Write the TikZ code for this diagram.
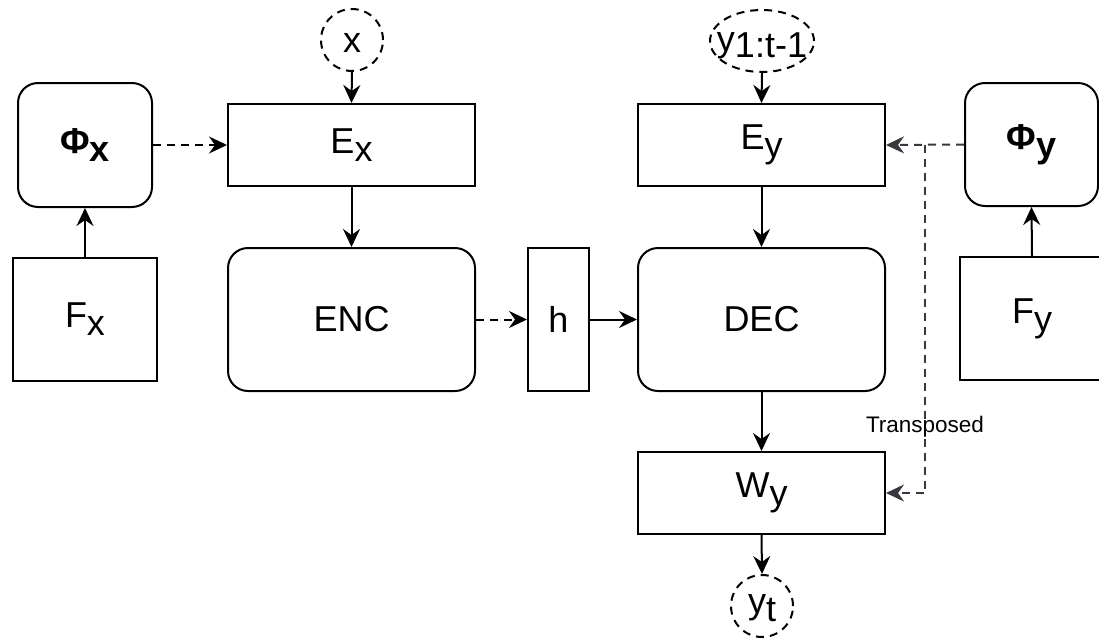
\documentclass[tikz,border=0pt]{standalone}
\usepackage{fontspec}
\setmainfont{Liberation Sans}
\usetikzlibrary{arrows.meta,shapes.geometric}
\definecolor{dg}{HTML}{36393D}
\newcommand{\lsub}[1]{\raisebox{-8pt}{#1}}
\begin{document}
\begin{tikzpicture}[x=1pt,y=-1pt,
  every node/.style={font=\fontsize{36}{42}\selectfont, inner sep=0pt, line width=2pt},
  box/.style={draw, rectangle, line width=2pt},
  rbox/.style={draw, rectangle, rounded corners=20pt, line width=2pt},
  dcirc/.style={draw, circle, dash pattern=on 8pt off 6pt, minimum size=62pt, line width=2pt},
  dell/.style={draw, ellipse, dash pattern=on 8pt off 6pt, minimum width=104pt, minimum height=62pt, line width=2pt},
  arr/.style={line width=2pt, -{Stealth[length=18pt,width=17pt,inset=6pt]}},
  darr/.style={arr, dash pattern=on 8pt off 6pt},
  garr/.style={darr, draw=dg, color=dg},
]
\path[use as bounding box, fill=white] (0,0) rectangle (1099,637);
\clip (0,0) rectangle (1099,637);

% left side
\node[rbox, minimum width=134pt, minimum height=124pt] (phix) at (85,145) {\textbf{Φ\lsub{x}}};
\node[box, minimum width=144pt, minimum height=123pt] (fx) at (85,319.5) {F\lsub{x}};
\node[dcirc, text height=24pt, text depth=0pt] (xin) at (352,40) {x};
\node[box, minimum width=247pt, minimum height=82pt] (ex) at (351.5,145) {E\lsub{x}};
\node[rbox, minimum width=247pt, minimum height=143pt] (enc) at (351.5,319.5) {ENC};
\node[box, minimum width=61pt, minimum height=143pt] (h) at (558.5,319.5) {h};

% decoder side
\node[dell] (yin) at (762,41) {};
\node[text height=26pt, text depth=6pt] (yintxt) at (yin.center) {y\raisebox{-6pt}{1:t-1}};
\node[box, minimum width=247pt, minimum height=82pt] (ey) at (761.5,145) {E\lsub{y}};
\node[rbox, minimum width=247pt, minimum height=143pt] (dec) at (761.5,319.5) {DEC};
\node[box, minimum width=247pt, minimum height=82pt] (wy) at (761.5,493) {W\lsub{y}};
\node[dcirc, text height=23pt, text depth=8pt] (yt) at (762,606) {y\lsub{t}};

% right side
\node[rbox, minimum width=133pt, minimum height=123pt] (phiy) at (1031.5,144.5) {\textbf{Φ\lsub{y}}};
\node[box, minimum width=144pt, minimum height=123pt] (fy) at (1032,318.5) {F\lsub{y}};

% connectors
\draw[arr] (fx.north) -- (phix.south);
\draw[darr] (phix.east) -- (ex.west);
\draw[arr] (xin.south) -- (ex.north);
\draw[arr] (ex.south) -- (enc.north);
\draw[darr] (enc.east) -- (h.west);
\draw[arr] (h.east) -- (dec.west);
\draw[arr] (yin.south) -- (ey.north);
\draw[arr] (ey.south) -- (dec.north);
\draw[arr] (dec.south) -- (wy.north);
\draw[arr] (wy.south) -- (yt.north);
\draw[arr] (fy.north) -- (phiy.south);
\draw[garr] (phiy.west) -- (ey.east);
\coordinate (br) at (925,144.5);
\draw[garr] (br) |- (wy.east);
\node[font=\fontsize{22.5}{26}\selectfont] (tr) at (925,427) {Transposed};
\end{tikzpicture}
\end{document}
